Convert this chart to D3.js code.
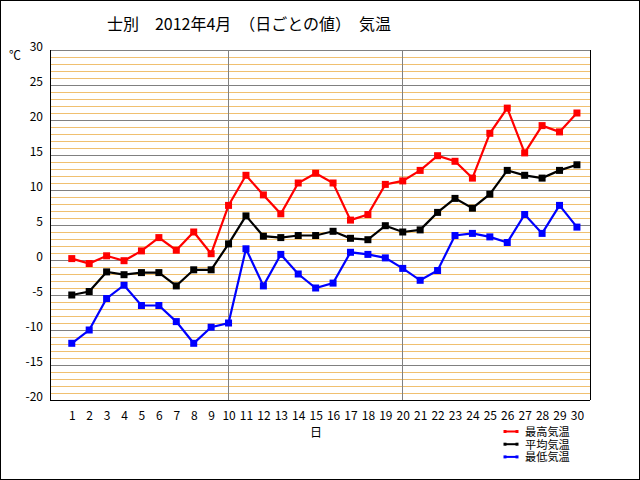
<!DOCTYPE html>
<html><head><meta charset="utf-8">
<script src="https://cdn.jsdelivr.net/npm/d3@7"></script>
<style>
html,body{margin:0;padding:0;background:#fff;}
svg{display:block;}
text{font-family:"Noto Sans CJK JP","Noto Sans",sans-serif;}
</style></head>
<body>
<svg id="c" width="640" height="480"></svg>
<script>
const days = d3.range(1, 31);
const maxTemp = [0.2,-0.5,0.6,-0.1,1.3,3.2,1.4,4.0,0.9,7.8,12.1,9.3,6.6,11.0,12.4,11.0,5.7,6.5,10.8,11.3,12.8,14.9,14.1,11.7,18.1,21.7,15.3,19.2,18.3,21.0];
const meanTemp = [-5.0,-4.5,-1.7,-2.1,-1.8,-1.8,-3.7,-1.4,-1.4,2.3,6.3,3.4,3.2,3.5,3.5,4.1,3.1,2.9,4.9,4.0,4.3,6.8,8.8,7.4,9.4,12.8,12.1,11.7,12.8,13.6];
const minTemp = [-11.9,-10.0,-5.5,-3.6,-6.5,-6.5,-8.8,-11.9,-9.6,-9.0,1.6,-3.7,0.8,-2.0,-4.0,-3.3,1.1,0.8,0.3,-1.2,-2.9,-1.5,3.5,3.8,3.3,2.5,6.5,3.8,7.8,4.7];
const seriesNames = ["最高気温","平均気温","最低気温"];
const seriesColors = ["#ff0000","#000000","#0000ff"];
const yTicks = [30,25,20,15,10,5,0,-5,-10,-15,-20];
const titleText = "士別　2012年4月　（日ごとの値）　気温";
const xTitle = "日";
const yUnit = "℃";

const svg = d3.select("#c");
const L = 50, R = 590, T = 50, B = 400;
const x = d3.scaleLinear().domain([-0.25, 30.75]).range([L, R]);
const y = d3.scaleLinear().domain([-20, 30]).range([B, T]);

svg.append("rect").attr("x",0.5).attr("y",0.5).attr("width",639).attr("height",479)
  .attr("fill","#fff").attr("stroke","#000").attr("stroke-width",1);

// grid
const g = svg.append("g").attr("shape-rendering","crispEdges");
d3.range(-19, 30).forEach(v => {
  const five = v % 5 === 0;
  g.append("line").attr("x1",L).attr("x2",R).attr("y1",y(v)).attr("y2",y(v))
    .attr("stroke", five ? "#808080" : "#f0c070").attr("stroke-width",1);
});
g.append("line").attr("x1",L).attr("x2",R).attr("y1",y(30)).attr("y2",y(30)).attr("stroke","#808080");
[10,20].forEach(d => {
  g.append("line").attr("x1",x(d)).attr("x2",x(d)).attr("y1",T).attr("y2",B).attr("stroke","#808080");
});
g.append("line").attr("x1",L).attr("x2",L).attr("y1",T).attr("y2",B).attr("stroke","#000");
g.append("line").attr("x1",R).attr("x2",R).attr("y1",T).attr("y2",B).attr("stroke","#000");
g.append("line").attr("x1",L).attr("x2",R).attr("y1",B).attr("y2",B).attr("stroke","#000");

// axes
const yAxis = svg.append("g").attr("transform",`translate(${L},0)`)
  .call(d3.axisLeft(y).tickValues(yTicks).tickSize(0).tickPadding(7).tickFormat(d => d < 0 ? "-" + Math.abs(d) : d));
yAxis.select(".domain").remove();
yAxis.selectAll("text").attr("dy","0").attr("font-size",12).attr("fill","#000")
  .style("font-family",'"Noto Sans CJK JP",sans-serif');

const xAxis = svg.append("g").attr("transform",`translate(0,${B})`)
  .call(d3.axisBottom(x).tickValues(days).tickSize(0).tickPadding(0).tickFormat(d3.format("d")));
xAxis.select(".domain").remove();
xAxis.selectAll("text").attr("y",20).attr("dy","0").attr("font-size",12).attr("fill","#000")
  .style("font-family",'"Noto Sans CJK JP",sans-serif');

svg.append("text").attr("x",249).attr("y",30).attr("text-anchor","middle").attr("font-size",16).text(titleText);
svg.append("text").attr("x",15).attr("y",60).attr("text-anchor","middle").attr("font-size",12).text(yUnit);
svg.append("text").attr("x",316).attr("y",437).attr("text-anchor","middle").attr("font-size",12).text(xTitle);

// series
const allSeries = [maxTemp, meanTemp, minTemp];
const line = d3.line().x((d,i) => x(days[i])).y(d => y(d));
allSeries.forEach((vals, k) => {
  svg.append("path").datum(vals).attr("d", line).attr("fill","none")
    .attr("stroke", seriesColors[k]).attr("stroke-width",2.2);
  svg.append("g").selectAll("rect").data(vals).join("rect")
    .attr("x",(d,i) => x(days[i]) - 3.5).attr("y", d => y(d) - 3.5)
    .attr("width",7).attr("height",7).attr("fill",seriesColors[k]);
});

// legend
const lg = svg.append("g");
seriesNames.forEach((n, k) => {
  const cy = 431.5 + k * 12.7;
  lg.append("line").attr("x1",505).attr("x2",517).attr("y1",cy).attr("y2",cy)
    .attr("stroke",seriesColors[k]).attr("stroke-width",2);
  [505,517].forEach(px => lg.append("rect").attr("x",px-1.5).attr("y",cy-1.5).attr("width",3).attr("height",3).attr("fill",seriesColors[k]));
  lg.append("text").attr("x",525).attr("y",cy+4.3).attr("font-size",11.2)
    .style("font-family",'"Liberation Sans","Noto Sans CJK JP",sans-serif').text(n);
});
</script>
</body></html>
